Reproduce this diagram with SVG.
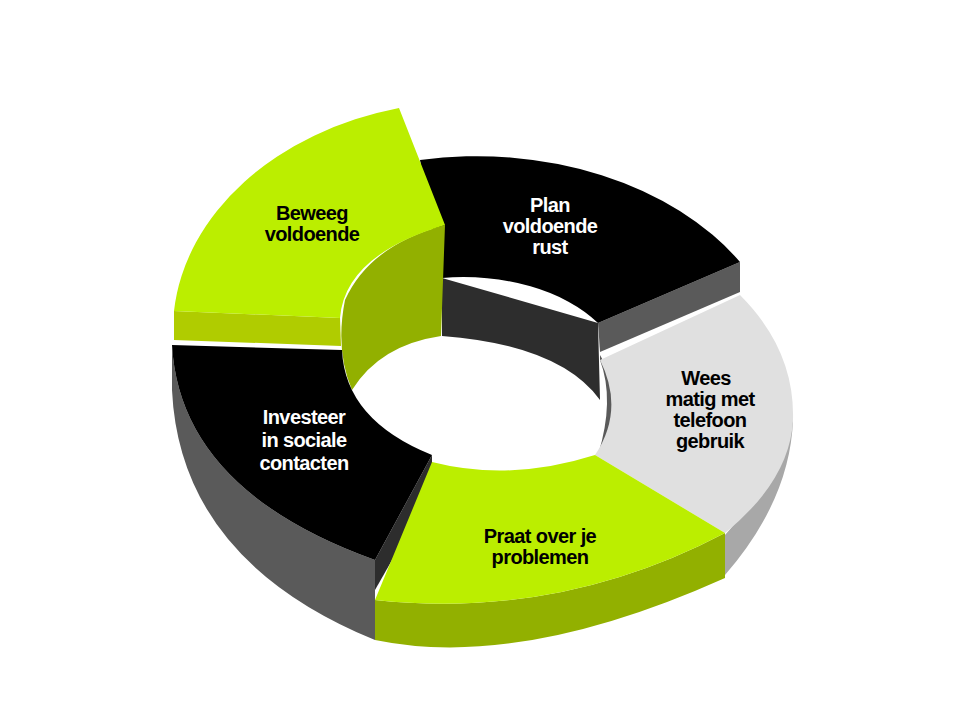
<svg xmlns="http://www.w3.org/2000/svg" width="960" height="720" viewBox="0 0 960 720">
<style>
text{font-family:"Liberation Sans",Arial,sans-serif;font-weight:bold;font-size:20px;text-anchor:middle;letter-spacing:-0.6px}
.w{fill:#fff}.k{fill:#000}
</style>
<rect width="960" height="720" fill="#fff"/>
<g id="plan">
<path d="M442,278 L598,323 L600,400 Q560,345 442,336 Z" fill="#2d2d2d"/>
<path d="M598,323 L740,262 L740,292 L600,352 Z" fill="#5a5a5a"/>
<path d="M420,160 A310 225 0 0 1 740,262 L598,323 A160 100 0 0 0 442,278 Z" fill="#000"/>
<text class="w" x="550" y="212">Plan</text><text class="w" x="550" y="233">voldoende</text><text class="w" x="550" y="254">rust</text>
</g>
<g id="beweeg">
<path d="M174,311 L340,318 L341,346 L174,340 Z" fill="#b0cc00"/>
<path d="M445,225 L441,336 Q380,345 352,390 Q335,350 345,300 Q370,245 445,225 Z" fill="#92b000"/>
<path d="M399,108 A300 230 0 0 0 174,311 L340,318 Q345,255 445,225 Z" fill="#bbee00"/>
<text class="k" x="312" y="220">Beweeg</text><text class="k" x="312" y="241">voldoende</text>
</g>
<g id="wees">
<path d="M793,420 Q790,500 725,575 L725,535 Q775,480 793,420 Z" fill="#a8a8a8"/>
<path d="M600,355 Q625,395 612,448 L598,455 Q615,400 600,360 Z" fill="#5a5a5a"/>
<path d="M740,295 Q795,350 793,420 Q790,480 725,533 L595,455 Q625,410 600,360 Z" fill="#e0e0e0"/>
<text class="k" x="706" y="385">Wees</text><text class="k" x="710" y="406">matig met</text><text class="k" x="710" y="427">telefoon</text><text class="k" x="710" y="448">gebruik</text>
</g>
<g id="investeer">
<path d="M172,345 L172,390 Q180,560 375,640 L375,560 Q180,490 172,345 Z" fill="#5a5a5a"/>
<path d="M432,455 L432,490 L375,590 L375,560 Z" fill="#2d2d2d"/>
<path d="M172,345 L342,350 Q345,420 432,455 L375,560 Q180,490 172,345 Z" fill="#000"/>
<text class="w" x="304" y="424">Investeer</text><text class="w" x="304" y="447">in sociale</text><text class="w" x="304" y="470">contacten</text>
</g>
<g id="praat">
<path d="M375,600 L375,640 Q520,670 725,578 L725,533 Q560,620 375,600 Z" fill="#92b000"/>
<path d="M432,462 Q510,482 595,455 L725,533 Q560,620 375,600 Z" fill="#bbee00"/>
<text class="k" x="540" y="543">Praat over je</text><text class="k" x="540" y="564">problemen</text>
</g>
</svg>
